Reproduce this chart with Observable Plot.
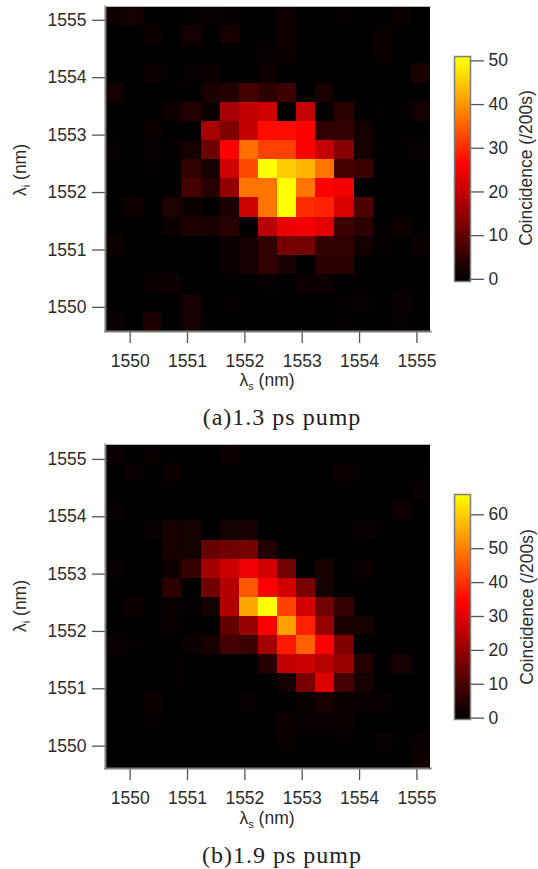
<!DOCTYPE html>
<html>
<head>
<meta charset="utf-8">
<script src="https://cdn.jsdelivr.net/npm/d3@7"></script>
<script src="https://cdn.jsdelivr.net/npm/@observablehq/plot@0.6"></script>
<style>
html,body{margin:0;padding:0;background:#fff;}
#page{position:relative;width:538px;height:869px;overflow:hidden;font-family:"Liberation Sans",Arial,sans-serif;color:#2b2b2b;}
#page svg{position:absolute;background:transparent;}
.lbl{position:absolute;font-size:17.5px;white-space:nowrap;transform:translate(-50%,-50%);line-height:1;}
.rot{transform:translate(-50%,-50%) rotate(-90deg);}
.lbl sub{font-size:11px;vertical-align:-4px;line-height:0;}
.cap{position:absolute;font-family:"Liberation Serif",serif;font-size:24px;letter-spacing:1px;white-space:nowrap;transform:translateX(-50%);line-height:1;color:#222;}
</style>
</head>
<body>
<div id="page"></div>
<script>
const gridStep = 1 / 3;
const ticksWavelength = [1550, 1551, 1552, 1553, 1554, 1555];

const countsA = [
  [1.5,2,0,0,.5,1,.5,0,0,1.5,0,0,.5,0,0,1,0],
  [0,0,1,0,2,0,2,0,0,1.5,0,0,0,0,1,0,.3],
  [0,.3,0,0,0,0,0,0,.7,1.5,0,.2,0,0,1,0,0],
  [0,0,1,.3,.7,1,0,0,1.5,0,0,0,0,0,0,0,2.5],
  [2,.3,0,0,0,2.5,3.5,7,4.5,6,0,2.5,0,0,0,0,0],
  [0,0,0,1.5,3.5,1,17,20,21,0,20,.5,4.5,0,.5,.3,2],
  [0,0,1,0,0,17,13,20,27,27,26,5,5,2,0,0,0],
  [.7,0,.7,.5,2,11,26,36.5,32,32,26,20,14,2,.3,.3,.7],
  [0,0,.5,.2,5,2,21,33,50,45,43,37,7,6,0,0,.5],
  [0,0,0,0,7,4,15,37,37,50,37,26,25,0,0,0,0],
  [0,1.5,0,3,1,0,3,21,37,50,30,29,22,8,0,0,0],
  [.3,0,0,1,3,2.5,4,0,19,24,25,23,6,4.5,.5,1.5,.2],
  [1.5,0,0,0,0,0,1,2,5,12,12,5,5,2,.5,0,1],
  [0,0,.2,0,0,0,1,2,5,2.5,0,4.5,4.5,0,.3,0,0],
  [0,0,1,1.3,0,0,0,0,.7,0,1.5,1.2,0,0,0,.2,0],
  [0,.3,0,0,2,0,.5,0,0,0,0,0,.4,.7,0,1.2,.5],
  [1,0,3,0,2,.3,0,0,0,0,0,.2,.5,0,0,.7,0]
];
const countsB = [
  [1.5,0,1,0,.3,0,1.5,0,0,0,0,0,0,0,0,0,0],
  [0,1,0,1.5,0,0,0,0,.2,0,0,0,1.3,.3,0,0,.3],
  [0,0,0,0,0,0,0,0,0,0,0,0,0,0,.3,0,1],
  [1,0,0,0,.3,0,0,.3,0,0,0,0,0,0,0,2,0],
  [0,0,1,3,2.5,0,2.5,3,0,0,0,0,0,1,.3,0,0],
  [.3,0,0,3,2.5,14,15,15.5,4.5,0,0,0,0,0,0,0,0],
  [1,0,0,2,7,22,27,32,28,15,0,3,.3,1.5,0,0,0],
  [0,0,0,6,0,15,24,45,34,28,16,2.5,.3,0,0,.2,0],
  [0,1.5,0,1,.7,2.5,24,55,66,42,28,15,7,0,0,0,0],
  [0,0,0,1,0,0,13,20,34,54,38,20,3.5,3,0,0,0],
  [1.5,.7,0,0,1.5,3,9,8,22,37,46,34,17,0,0,0,0],
  [0,0,0,.7,0,0,0,0,5,26,27,24,20,5,.2,3,0],
  [0,0,0,.7,0,0,0,0,0,2.5,16,30,9,3,0,0,0],
  [0,.3,1.5,0,0,0,0,1,0,0,1.5,3,1.5,1,1,0,0],
  [0,.3,.6,0,0,0,0,0,.5,2,1,1,1.5,0,0,.2,0],
  [0,.2,0,0,0,.2,0,0,0,1.5,0,0,.5,0,1,.2,1],
  [0,0,0,0,0,.2,0,0,0,.2,0,0,0,0,0,0,2]
];
const ticksCountA = [0, 10, 20, 30, 40, 50];
const ticksCountB = [0, 10, 20, 30, 40, 50, 60];

const ink = "#2b2b2b", tickInk = "#555", frameInk = "#7c7c7c";
const page = document.getElementById("page");

function colorScale(redAt, max) {
  return {type: "linear", domain: [0, redAt, max], range: ["#000000", "#ff0000", "#ffff00"], clamp: true};
}

function heatmap({counts, top, boxH, yMin, yMax, color}) {
  const xMin = 1549.57;
  const rows = counts.flatMap((row, r) => row.map((v, c) => ({
    x1: xMin + c * gridStep, x2: xMin + (c + 1) * gridStep,
    y1: yMax - (r + 1) * gridStep, y2: yMax - r * gridStep, v
  })));
  const svg = Plot.plot({
    width: 440, height: boxH + 60,
    marginLeft: 105, marginRight: 10, marginTop: 6, marginBottom: 54,
    style: {fontFamily: '"Liberation Sans",Arial,sans-serif', fontSize: "17.5px", color: ink, background: "transparent"},
    x: {domain: [xMin, xMin + 17 * gridStep], label: null},
    y: {domain: [yMin, yMax], label: null},
    color,
    marks: [
      Plot.rect(rows, {x1: "x1", x2: "x2", y1: "y1", y2: "y2", fill: "v", shapeRendering: "crispEdges"}),
      Plot.axisX({ticks: ticksWavelength, tickFormat: d => String(d), tickSize: 12, tickPadding: 11, stroke: tickInk, strokeWidth: 1.3, label: null, fontSize: 17.5, fill: ink}),
      Plot.axisY({ticks: ticksWavelength, tickFormat: d => String(d), tickSize: 13, tickPadding: 6, stroke: tickInk, strokeWidth: 1.3, label: null, fontSize: 17.5, fill: ink}),
      Plot.frame({anchor: "left", stroke: frameInk, strokeWidth: 2}),
      Plot.frame({anchor: "bottom", stroke: frameInk, strokeWidth: 2}),
      Plot.frame({anchor: "top", stroke: "#b5b5b5", strokeWidth: 1})
    ]
  });
  svg.style.left = "0px";
  svg.style.top = (top - 6) + "px";
  page.appendChild(svg);
}

function colorbar({top, barH, lo, hi, color, ticks}) {
  const steps = d3.range(0, 120).map(i => ({
    y1: lo + (hi - lo) * i / 120, y2: lo + (hi - lo) * (i + 1) / 120,
    v: lo + (hi - lo) * (i + .5) / 120
  }));
  const svg = Plot.plot({
    width: 108, height: barH + 20,
    marginLeft: 24, marginRight: 68, marginTop: 10, marginBottom: 10,
    style: {fontFamily: '"Liberation Sans",Arial,sans-serif', fontSize: "17.5px", color: ink, background: "transparent"},
    x: {axis: null, domain: [0, 1]},
    y: {domain: [lo, hi], label: null},
    color,
    marks: [
      Plot.rect(steps, {x1: 0, x2: 1, y1: "y1", y2: "y2", fill: "v", shapeRendering: "crispEdges"}),
      Plot.axisY({anchor: "right", ticks, tickSize: 13, tickPadding: 5, stroke: tickInk, strokeWidth: 1.3, label: null, fontSize: 17.5, fill: ink, tickFormat: d => String(d)}),
      Plot.frame({stroke: frameInk, strokeWidth: 1.5})
    ]
  });
  svg.style.left = "430px";
  svg.style.top = (top - 10) + "px";
  page.appendChild(svg);
}

function label(html, x, y, rot) {
  const d = document.createElement("div");
  d.className = "lbl" + (rot ? " rot" : "");
  d.style.left = x + "px"; d.style.top = y + "px";
  d.innerHTML = html;
  page.appendChild(d);
}
function caption(text, x, y) {
  const d = document.createElement("div");
  d.className = "cap";
  d.style.left = x + "px"; d.style.top = y + "px";
  d.textContent = text;
  page.appendChild(d);
}

const colorA = colorScale(26, 50), colorB = colorScale(34, 66);
heatmap({counts: countsA, top: 6, boxH: 325, yMin: 1549.58, yMax: 1555.24, color: colorA});
heatmap({counts: countsB, top: 444, boxH: 324, yMin: 1549.61, yMax: 1555.26, color: colorB});
colorbar({top: 56, barH: 225, lo: -0.5, hi: 51, color: colorA, ticks: ticksCountA});
colorbar({top: 494, barH: 225, lo: -0.4, hi: 66, color: colorB, ticks: ticksCountB});

label("λ<sub>s</sub> (nm)", 267, 381);
label("λ<sub>s</sub> (nm)", 267, 819);
label("λ<sub>i</sub> (nm)", 21, 170, true);
label("λ<sub>i</sub> (nm)", 21, 606, true);
label("Coincidence (/200s)", 527, 168, true);
label("Coincidence (/200s)", 528, 607, true);
caption("(a)1.3 ps pump", 282, 405);
caption("(b)1.9 ps pump", 282, 843);
</script>
</body>
</html>
